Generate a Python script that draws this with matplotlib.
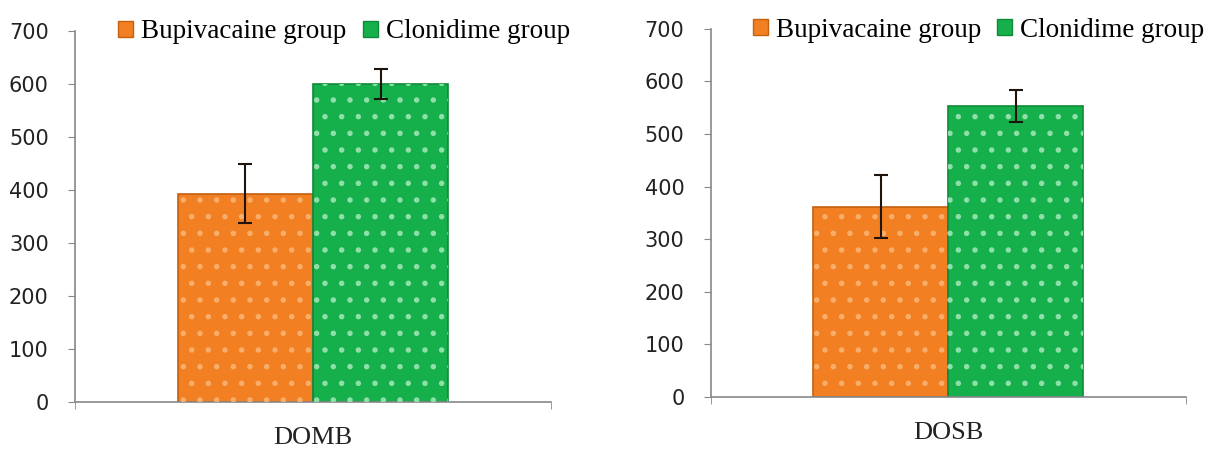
import matplotlib.pyplot as plt
from matplotlib.patches import Patch

# data
groups = ['Bupivacaine group', 'Clonidime group']
panels = ['DOMB', 'DOSB']
means = {'DOMB': [393, 600], 'DOSB': [362, 553]}
sds = {'DOMB': [56, 28], 'DOSB': [60, 31]}
yticks = [0, 100, 200, 300, 400, 500, 600, 700]

face = ['#F28023', '#15B04C']
edge = ['#C4600E', '#0E8A38']
dots = ['#F8AE6A', '#8FE0A8']

plt.rcParams['hatch.linewidth'] = 1.5

fig = plt.figure(figsize=(12.11, 4.5), dpi=100)
boxes = [[0.062, 0.107, 0.393, 0.824], [0.587, 0.118, 0.392, 0.818]]
legend_pos = [(0.284, 0.929), (0.808, 0.933)]

bw = 0.284
xs = [-bw / 2, bw / 2]

for i, name in enumerate(panels):
    ax = fig.add_axes(boxes[i])
    for j in range(2):
        ax.bar(xs[j], means[name][j], width=bw, color=face[j],
               edgecolor=edge[j], linewidth=1.2, zorder=2)
        # dot texture on top of the fill
        ax.bar(xs[j], means[name][j], width=bw, color='none',
               edgecolor=dots[j], hatch='.', linewidth=0, zorder=3)
        ax.errorbar(xs[j], means[name][j], yerr=sds[name][j], fmt='none',
                    ecolor='#1e140c', elinewidth=1.5, capsize=5,
                    capthick=1.5, zorder=4)
    ax.set_xlim(-0.5, 0.5)
    ax.set_ylim(0, 700)
    ax.set_yticks(yticks)
    ax.set_xticks([0])
    ax.set_xticklabels([name], fontsize=19, family='Liberation Serif',
                       color='#222222')
    ax.set_xticks([-0.5, 0.5], minor=True)
    ax.tick_params(axis='x', which='major', length=0, pad=18)
    ax.tick_params(axis='x', which='minor', length=5, color='#888888',
                   direction='out')
    ax.tick_params(axis='y', length=5, color='#888888', labelsize=15,
                   labelcolor='#222222', pad=14)
    for s in ['top', 'right']:
        ax.spines[s].set_visible(False)
    for s in ['left', 'bottom']:
        ax.spines[s].set_color('#888888')
        ax.spines[s].set_linewidth(1.2)

    handles = [Patch(facecolor=face[k], edgecolor=edge[k]) for k in range(2)]
    fig.legend(handles, groups, loc='center', bbox_to_anchor=legend_pos[i],
               ncol=2, frameon=False, handlelength=0.55, handleheight=0.55,
               handletextpad=0.3, columnspacing=0.6,
               prop={'family': 'Liberation Serif', 'size': 19.5})

fig.savefig('out.png', dpi=100)
